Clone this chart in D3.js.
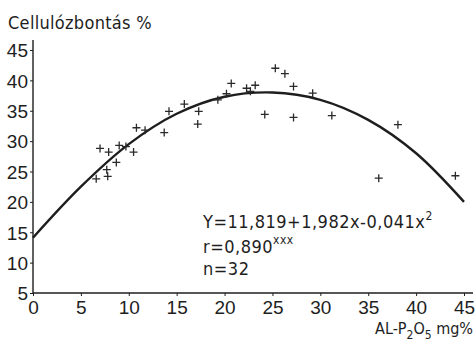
<!DOCTYPE html>
<html>
<head>
<meta charset="utf-8">
<script src="https://cdn.jsdelivr.net/npm/d3@7"></script>
<style>
  body { margin: 0; background: #fff; }
  svg { display: block; font-family: "DejaVu Sans Condensed", "DejaVu Sans", sans-serif; font-stretch: condensed; fill: #1e1e1e; }
</style>
</head>
<body>
<div id="chart"></div>
<script>
// AL-P2O5 mg% (x) vs cellulose decomposition % (y)
const phosphorus = [6.6, 7.0, 7.9, 7.7, 7.8, 8.7, 9.0, 9.7, 10.5, 10.8, 11.7, 13.7, 14.2, 15.8, 17.3, 17.2,
  19.3, 20.2, 20.7, 22.3, 22.7, 23.2, 24.2, 25.3, 26.3, 27.2, 27.2, 29.2, 31.2, 36.1, 38.1, 44.1];
const cellulose = [23.8, 28.8, 28.2, 25.3, 24.2, 26.5, 29.3, 29.1, 28.2, 32.2, 31.8, 31.4, 34.9, 36.1, 34.9, 32.8,
  36.8, 37.8, 39.5, 38.7, 38.2, 39.2, 34.4, 42.0, 41.1, 39.0, 33.9, 37.9, 34.2, 23.9, 32.7, 24.3];

// fitted curve as drawn in the figure
const curveX = [0, 5, 10, 15, 20, 25, 30, 35, 40, 45];
const curveY = [14.1, 22.5, 29.5, 34.5, 37.3, 38.0, 36.8, 33.5, 28.0, 20.0];

const xTicks = [0, 5, 10, 15, 20, 25, 30, 35, 40, 45];
const yTicks = [5, 10, 15, 20, 25, 30, 35, 40, 45];

const width = 476;
const height = 345;
const ink = '#1e1e1e';

const svg = d3.select('#chart')
  .append('svg')
  .attr('width', width)
  .attr('height', height);

const x = d3.scaleLinear().domain([0, 45]).range([33, 464]);
const y = d3.scaleLinear().domain([5, 45]).range([293, 50]);

// axes
const xAxis = svg.append('g')
  .attr('transform', `translate(0, ${y(5)})`)
  .call(d3.axisBottom(x).tickValues(xTicks).tickSize(3).tickPadding(5).tickFormat(d3.format('d')));
xAxis.select('.domain').remove();
xAxis.append('line')
  .attr('x1', x(0)).attr('x2', 473)
  .attr('stroke', ink).attr('stroke-width', 1.4);

const yAxis = svg.append('g')
  .attr('transform', `translate(${x(0)}, 0)`)
  .call(d3.axisLeft(y).tickValues(yTicks).tickSize(3).tickPadding(2).tickFormat(d3.format('d')));
yAxis.select('.domain').remove();
yAxis.append('line')
  .attr('y1', y(5) + 1).attr('y2', 40)
  .attr('stroke', ink).attr('stroke-width', 1.4);

svg.selectAll('.tick line').attr('stroke', ink).attr('stroke-width', 1);
svg.selectAll('.tick text')
  .attr('fill', ink)
  .style('font-size', '19px')
  .style('font-family', null);
yAxis.selectAll('.tick text').attr('dy', '0.36em');
xAxis.selectAll('.tick text').attr('dy', '0.68em');

// regression curve
const pts = curveX.map((d, i) => [d, curveY[i]]);
svg.append('path')
  .datum(pts)
  .attr('fill', 'none')
  .attr('stroke', ink)
  .attr('stroke-width', 2.4)
  .attr('d', d3.line().x(d => x(d[0])).y(d => y(d[1])).curve(d3.curveCatmullRom));

// plus markers
const s = 4;
svg.append('g')
  .selectAll('path')
  .data(phosphorus.map((d, i) => [d, cellulose[i]]))
  .enter()
  .append('path')
  .attr('d', d => {
    const px = x(d[0]), py = y(d[1]);
    return `M${px - s},${py}H${px + s}M${px},${py - s}V${py + s}`;
  })
  .attr('stroke', '#2a2a2a')
  .attr('stroke-width', 1.3)
  .attr('fill', 'none');

// axis titles
svg.append('text')
  .attr('x', 8).attr('y', 29)
  .style('font-size', '18px')
  .style('letter-spacing', '0.3px')
  .text('Cellulózbontás %');

const xl = svg.append('text')
  .attr('x', 473).attr('y', 334)
  .attr('text-anchor', 'end')
  .style('font-size', '16px');
xl.append('tspan').text('AL-P');
xl.append('tspan').attr('dy', 5).style('font-size', '12px').text('2');
xl.append('tspan').attr('dy', -5).text('O');
xl.append('tspan').attr('dy', 5).style('font-size', '12px').text('5');
xl.append('tspan').attr('dy', -5).text(' mg%');

// equation block
const eq = svg.append('g').style('font-size', '18px').style('letter-spacing', '0.5px');
const l1 = eq.append('text').attr('x', 203).attr('y', 228);
l1.append('tspan').text('Y=11,819+1,982x-0,041x');
l1.append('tspan').attr('dy', -8).style('font-size', '12px').text('2');

const l2 = eq.append('text').attr('x', 203).attr('y', 253);
l2.append('tspan').text('r=0,890');
l2.append('tspan').attr('dy', -9).style('font-size', '12px').text('xxx');

eq.append('text').attr('x', 203).attr('y', 275).text('n=32');
</script>
</body>
</html>
